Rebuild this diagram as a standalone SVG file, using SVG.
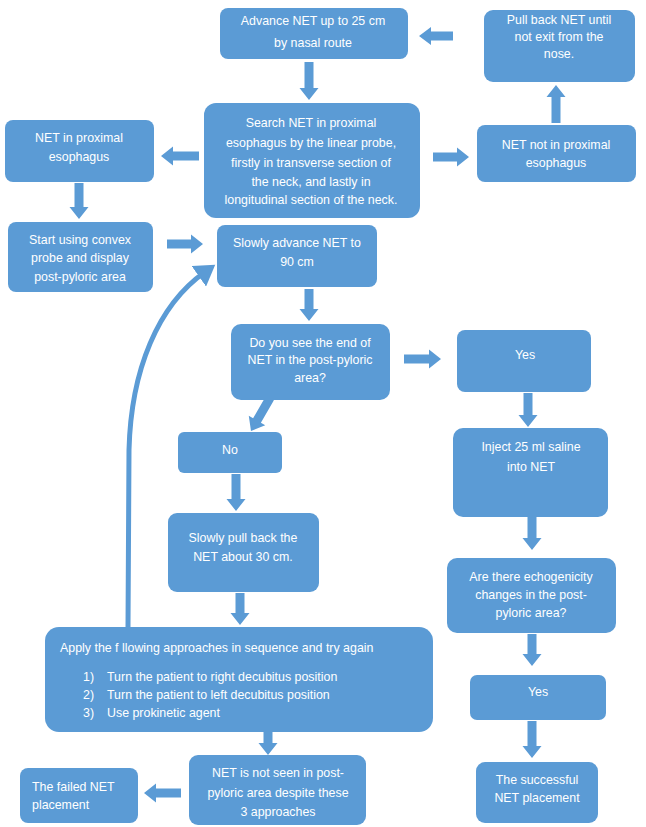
<svg xmlns="http://www.w3.org/2000/svg" width="646" height="827" viewBox="0 0 646 827">
<defs>
<style>
.box{fill:#5b9bd5}
.arr{fill:#5b9bd5}
.t{font-family:"Liberation Sans",Arial,sans-serif;font-size:12.4px;fill:#ffffff;text-anchor:middle}
.tl{font-family:"Liberation Sans",Arial,sans-serif;font-size:12.4px;fill:#ffffff}
</style>
<marker id="head" markerWidth="5" markerHeight="5" refX="1.5" refY="2.5" orient="auto" markerUnits="strokeWidth">
<path d="M0,0 L4,2.5 L0,5 Z" fill="#5b9bd5"/>
</marker>
</defs>
<rect width="646" height="827" fill="#ffffff"/>

<g id="connectors">
<polygon class="arr" points="453,31.5 453,40.5 431,40.5 431,45 419,36 431,27 431,31.5"/>
<polygon class="arr" points="304.5,62 313.5,62 313.5,88 318.5,88 309,100 299.5,88 304.5,88"/>
<polygon class="arr" points="199,151.5 199,160.5 173,160.5 173,165.5 161,156 173,146.5 173,151.5"/>
<polygon class="arr" points="433,152.5 433,161.5 457,161.5 457,166.5 469,157 457,147.5 457,152.5"/>
<polygon class="arr" points="551.5,123 560.5,123 560.5,97 565.5,97 556,85 546.5,97 551.5,97"/>
<polygon class="arr" points="74.5,183 83.5,183 83.5,207 88.5,207 79,219 69.5,207 74.5,207"/>
<polygon class="arr" points="167,239.5 167,248.5 191,248.5 191,253.5 203,244 191,234.5 191,239.5"/>
<polygon class="arr" points="304.5,289 313.5,289 313.5,309 318.5,309 309,321 299.5,309 304.5,309"/>
<polygon class="arr" points="404,354.5 404,363.5 429,363.5 429,368.5 441,359 429,349.5 429,354.5"/>
<polygon class="arr" points="523.5,393 532.5,393 532.5,415 537.5,415 528,427 518.5,415 523.5,415"/>
<polygon class="arr" transform="translate(270,398) rotate(30)" points="-4.5,0 4.5,0 4.5,26 9.5,26 0,38 -9.5,26 -4.5,26"/>
<polygon class="arr" points="231.5,474 240.5,474 240.5,499 245.5,499 236,511 226.5,499 231.5,499"/>
<polygon class="arr" points="235.5,593 244.5,593 244.5,613 249.5,613 240,625 230.5,613 235.5,613"/>
<polygon class="arr" points="527.5,517 536.5,517 536.5,538 541.5,538 532,550 522.5,538 527.5,538"/>
<polygon class="arr" points="527.5,634 536.5,634 536.5,654 541.5,654 532,666 522.5,654 527.5,654"/>
<polygon class="arr" points="527.5,721 536.5,721 536.5,746 541.5,746 532,758 522.5,746 527.5,746"/>
<polygon class="arr" points="263.5,732 272.5,732 272.5,743 277.5,743 268,755 258.5,743 263.5,743"/>
<polygon class="arr" points="181,788.5 181,797.5 156,797.5 156,802.5 144,793 156,783.5 156,788.5"/>
<path d="M128,627 L129,450 C131,370 158,305 205,272" fill="none" stroke="#5b9bd5" stroke-width="5" marker-end="url(#head)"/>
</g>

<g id="advance">
<rect class="box" x="220" y="8" width="188" height="51" rx="8"/>
<text class="t" x="313" y="25">Advance NET up to 25 cm</text>
<text class="t" x="313" y="47">by nasal route</text>
</g>
<g id="pullback">
<rect class="box" x="484" y="10" width="151" height="72" rx="9"/>
<text class="t" x="559" y="24">Pull back NET until</text>
<text class="t" x="559" y="41">not exit from the</text>
<text class="t" x="559" y="58">nose.</text>
</g>
<g id="search">
<rect class="box" x="204" y="103" width="216" height="115" rx="12"/>
<text class="t" x="311" y="127">Search NET in proximal</text>
<text class="t" x="311" y="147">esophagus by the linear probe,</text>
<text class="t" x="311" y="167">firstly in transverse section of</text>
<text class="t" x="311" y="186">the neck, and lastly in</text>
<text class="t" x="311" y="204">longitudinal section of the neck.</text>
</g>
<g id="netprox">
<rect class="box" x="5" y="120" width="149" height="62" rx="8"/>
<text class="t" x="79" y="142">NET in proximal</text>
<text class="t" x="79" y="161">esophagus</text>
</g>
<g id="netnot">
<rect class="box" x="477" y="125" width="159" height="57" rx="8"/>
<text class="t" x="556" y="149">NET not in proximal</text>
<text class="t" x="556" y="167">esophagus</text>
</g>
<g id="start">
<rect class="box" x="8" y="222" width="145" height="70" rx="8"/>
<text class="t" x="80" y="244">Start using convex</text>
<text class="t" x="80" y="262">probe and display</text>
<text class="t" x="80" y="281">post-pyloric area</text>
</g>
<g id="slowadv">
<rect class="box" x="217" y="225" width="160" height="62" rx="8"/>
<text class="t" x="297" y="247">Slowly advance NET to</text>
<text class="t" x="297" y="266">90 cm</text>
</g>
<g id="doyousee">
<rect class="box" x="231" y="324" width="159" height="76" rx="10"/>
<text class="t" x="310" y="347">Do you see the end of</text>
<text class="t" x="310" y="364">NET in the post-pyloric</text>
<text class="t" x="310" y="382">area?</text>
</g>
<g id="yes1">
<rect class="box" x="457" y="330" width="134" height="62" rx="8"/>
<text class="t" x="525" y="359">Yes</text>
</g>
<g id="no">
<rect class="box" x="178" y="432" width="104" height="41" rx="6"/>
<text class="t" x="230" y="454">No</text>
</g>
<g id="pullback30">
<rect class="box" x="168" y="513" width="151" height="79" rx="9"/>
<text class="t" x="243" y="542">Slowly pull back the</text>
<text class="t" x="243" y="561">NET about 30 cm.</text>
</g>
<g id="inject">
<rect class="box" x="453" y="428" width="155" height="89" rx="10"/>
<text class="t" x="531" y="451">Inject 25 ml saline</text>
<text class="t" x="531" y="471">into NET</text>
</g>
<g id="arethere">
<rect class="box" x="447" y="558" width="169" height="75" rx="10"/>
<text class="t" x="531" y="581">Are there echogenicity</text>
<text class="t" x="531" y="599">changes in the post-</text>
<text class="t" x="531" y="617">pyloric area?</text>
</g>
<g id="apply">
<rect class="box" x="45" y="627" width="388" height="105" rx="14"/>
<text class="tl" x="60" y="652">Apply the f llowing approaches in sequence and try again</text>
<text class="tl" x="83" y="681">1)</text>
<text class="tl" x="107" y="681">Turn the patient to right decubitus position</text>
<text class="tl" x="83" y="699">2)</text>
<text class="tl" x="107" y="699">Turn the patient to left decubitus position</text>
<text class="tl" x="83" y="717">3)</text>
<text class="tl" x="107" y="717">Use prokinetic agent</text>
</g>
<g id="yes2">
<rect class="box" x="470" y="675" width="136" height="45" rx="7"/>
<text class="t" x="538" y="696">Yes</text>
</g>
<g id="netnotseen">
<rect class="box" x="189" y="755" width="177" height="70" rx="9"/>
<text class="t" x="278" y="777">NET is not seen in post-</text>
<text class="t" x="278" y="797">pyloric area despite these</text>
<text class="t" x="278" y="816">3 approaches</text>
</g>
<g id="failed">
<rect class="box" x="20" y="768" width="118" height="55" rx="8"/>
<text class="tl" x="32" y="791">The failed NET</text>
<text class="tl" x="32" y="809">placement</text>
</g>
<g id="success">
<rect class="box" x="476" y="762" width="122" height="61" rx="9"/>
<text class="t" x="537" y="784">The successful</text>
<text class="t" x="537" y="802">NET placement</text>
</g>
</svg>
